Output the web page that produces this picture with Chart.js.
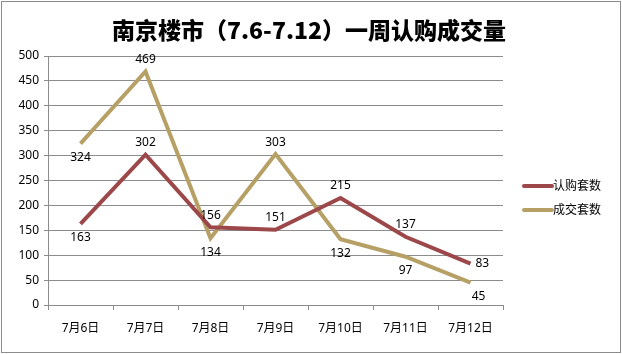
<!DOCTYPE html>
<html>
<head>
<meta charset="utf-8">
<script src="https://cdn.jsdelivr.net/npm/chart.js@4"></script>
<style>
  html, body { margin: 0; padding: 0; background: #fff; }
  #wrap { width: 622px; height: 354px; position: relative; }
</style>
</head>
<body>
<div id="wrap"><canvas id="weekChart" width="622" height="354"></canvas></div>
<script>
// data
const days = ['7月6日', '7月7日', '7月8日', '7月9日', '7月10日', '7月11日', '7月12日'];
const subscribed = [163, 302, 156, 151, 215, 137, 83];   // 认购套数
const closed = [324, 469, 134, 303, 132, 97, 45];        // 成交套数
const yTicks = [0, 50, 100, 150, 200, 250, 300, 350, 400, 450, 500];

// where each value label sits relative to its point
const subscribedPos = ['below', 'above', 'above', 'above', 'above', 'above', 'right'];
const closedPos = ['below', 'above', 'below', 'above', 'below', 'below', 'below'];

const RED = '#9C4749';
const TAN = '#B6A065';
const labelFont = "12px 'Noto Sans', 'Noto Sans CJK SC', sans-serif";

// value labels next to each point
const pointLabels = {
    id: 'pointLabels',
    afterDatasetsDraw(chart) {
        const c = chart.ctx;
        c.save();
        c.font = labelFont;
        c.fillStyle = '#000';
        c.textBaseline = 'middle';
        chart.data.datasets.forEach((ds, i) => {
            const meta = chart.getDatasetMeta(i);
            meta.data.forEach((pt, j) => {
                const pos = ds.labelPos[j];
                let x = pt.x, y = pt.y;
                c.textAlign = 'center';
                if (pos === 'above') y -= 12;
                else if (pos === 'below') { y += 14; if (j === ds.data.length - 1) x += 8; }
                else if (pos === 'right') { x += 5; c.textAlign = 'left'; }
                c.fillText(String(ds.data[j]), x, y);
            });
        });
        c.restore();
    }
};

// title, legend and outer frame
const frame = {
    id: 'frame',
    afterDraw(chart) {
        const c = chart.ctx;
        c.save();
        c.strokeStyle = '#8c8c8c';
        c.lineWidth = 1;
        c.strokeRect(1.5, 1.5, 619, 351);

        c.fillStyle = '#000';
        c.font = "900 23px 'Noto Sans CJK SC', sans-serif";
        c.textAlign = 'center';
        c.textBaseline = 'middle';
        c.fillText('南京楼市（7.6-7.12）一周认购成交量', 309, 30);

        c.font = labelFont;
        c.textAlign = 'left';
        chart.data.datasets.forEach((ds, i) => {
            const y = 186 + i * 24;
            c.strokeStyle = ds.borderColor;
            c.lineWidth = 4;
            c.lineCap = 'round';
            c.beginPath();
            c.moveTo(524, y);
            c.lineTo(552, y);
            c.stroke();
            c.fillStyle = '#000';
            c.fillText(ds.label, 553, y + 1);
        });
        c.restore();
    }
};

new Chart(document.getElementById('weekChart'), {
    type: 'line',
    data: {
        labels: days,
        datasets: [
            { label: '认购套数', data: subscribed, labelPos: subscribedPos, borderColor: RED, borderWidth: 4, pointRadius: 0, tension: 0 },
            { label: '成交套数', data: closed, labelPos: closedPos, borderColor: TAN, borderWidth: 4, pointRadius: 0, tension: 0 }
        ]
    },
    options: {
        responsive: false,
        animation: false,
        events: [],
        layout: { padding: { top: 56, right: 119, bottom: 0, left: 0 } },
        plugins: { legend: { display: false }, title: { display: false }, tooltip: { enabled: false } },
        scales: {
            x: {
                offset: true,
                afterFit: (s) => { s.height = 49; },
                grid: { offset: true, drawOnChartArea: false, drawTicks: true, tickLength: 5, color: '#8c8c8c' },
                border: { color: '#8c8c8c' },
                ticks: { color: '#000', font: { family: "'Noto Sans', 'Noto Sans CJK SC', sans-serif", size: 12 }, padding: 11, maxRotation: 0 }
            },
            y: {
                min: 0,
                max: 500,
                afterFit: (s) => { s.width = 48; },
                afterBuildTicks: (s) => { s.ticks = yTicks.map(v => ({ value: v })); },
                grid: { color: '#8c8c8c', tickLength: 4 },
                border: { color: '#8c8c8c' },
                ticks: { color: '#000', font: { family: "'Noto Sans', sans-serif", size: 12 }, padding: 5 }
            }
        }
    },
    plugins: [pointLabels, frame]
});
</script>
</body>
</html>
